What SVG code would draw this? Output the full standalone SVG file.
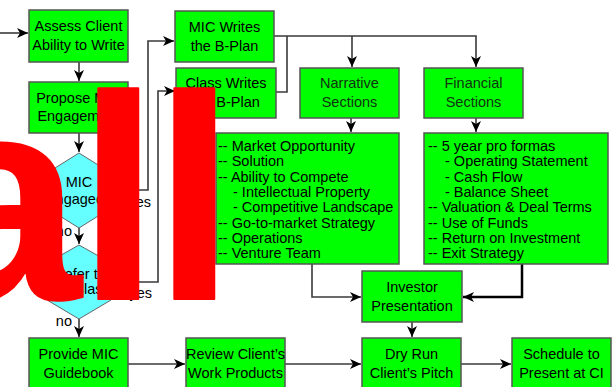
<svg xmlns="http://www.w3.org/2000/svg" width="612" height="387" viewBox="0 0 612 387">
  <style>
    .box { fill: #00ff00; stroke: #555555; stroke-width: 1.5; }
    .hex { fill: #66ffff; stroke: #666666; stroke-width: 1; }
    .t { font-family: "Liberation Sans", Arial, sans-serif; font-size: 14.5px; fill: #000000; text-anchor: middle; }
    .dim { fill: #123312; }
    .lst { font-family: "Liberation Sans", Arial, sans-serif; font-size: 14.5px; fill: #000000; }
    .lbl { font-family: "Liberation Sans", Arial, sans-serif; font-size: 14.5px; fill: #000000; text-anchor: end; }
    .wire { fill: none; stroke: #3a3a3a; stroke-width: 1.6; }
    .heavy { fill: none; stroke: #000000; stroke-width: 2.5; }
    .big { font-family: "Liberation Sans", Arial, sans-serif; font-weight: bold; font-size: 291px; fill: #ff0000; stroke: #ff0000; stroke-width: 2; stroke-linejoin: round; }
  </style>
  <defs>
    <marker id="arr" markerUnits="userSpaceOnUse" markerWidth="11" markerHeight="10" refX="11" refY="5" orient="auto">
      <path d="M0,0 L11,5 L0,10 L3,5 Z" fill="#000000"/>
    </marker>
  </defs>

  <rect width="612" height="387" fill="#ffffff"/>

  <!-- connectors -->
  <g id="connectors">
    <path class="wire" d="M0,33 H28" marker-end="url(#arr)"/>
    <path class="wire" d="M79,62 V81" marker-end="url(#arr)"/>
    <path class="wire" d="M79,133 V152" marker-end="url(#arr)"/>
    <path class="wire" d="M79,228 V244" marker-end="url(#arr)"/>
    <path class="wire" d="M79,319 V337" marker-end="url(#arr)"/>
    <path class="wire" d="M103,190 H148 V41 H174" marker-end="url(#arr)"/>
    <path class="wire" d="M111,282 H158 V91 H175" marker-end="url(#arr)"/>
    <path class="wire" d="M274,36 H476 V67" marker-end="url(#arr)"/>
    <path class="wire" d="M352,36 V67" marker-end="url(#arr)"/>
    <path class="wire" d="M276,92 H287 V36"/>
    <path class="wire" d="M351,118 V132" marker-end="url(#arr)"/>
    <path class="wire" d="M476,118 V132" marker-end="url(#arr)"/>
    <path class="wire" d="M312,264 V297 H361" marker-end="url(#arr)"/>
    <path class="heavy" d="M522,264 V297 H463" marker-end="url(#arr)"/>
    <path class="wire" d="M412,322 V337" marker-end="url(#arr)"/>
    <path class="wire" d="M128,364 H185" marker-end="url(#arr)"/>
    <path class="wire" d="M285,364 H361" marker-end="url(#arr)"/>
    <path class="wire" d="M461,364 H511" marker-end="url(#arr)"/>
    <text class="lbl" x="151" y="207">yes</text>
    <text class="lbl" x="152" y="298">yes</text>
    <text class="lbl" x="72" y="236">no</text>
    <text class="lbl" x="72" y="326">no</text>
  </g>

  <g id="assess">
    <rect class="box" x="29" y="10" width="99" height="52"/>
    <text class="t" x="78.5" y="31">Assess Client</text>
    <text class="t" x="78.5" y="50">Ability to Write</text>
  </g>
  <g id="propose">
    <rect class="box" x="29" y="82" width="99" height="51"/>
    <text class="t" x="78.5" y="103">Propose MIC</text>
    <text class="t" x="78.5" y="121">Engagement</text>
  </g>
  <g id="engaged">
    <polygon class="hex" points="79,153 103,168 103,213 79,228 55,213 55,168"/>
    <text class="t" x="79" y="187">MIC</text>
    <text class="t" x="79" y="204">Engaged?</text>
  </g>
  <g id="refer">
    <polygon class="hex" points="79,245 111,263 111,300 79,319 47,300 47,263"/>
    <text class="t" x="80" y="279">Refer to</text>
    <text class="t" x="80" y="294">CA Class</text>
  </g>
  <g id="mic-writes">
    <rect class="box" x="175" y="11" width="99" height="51"/>
    <text class="t" x="224.5" y="31.5">MIC Writes</text>
    <text class="t" x="224.5" y="50.5">the B-Plan</text>
  </g>
  <g id="class-writes">
    <rect class="box" x="176" y="68" width="100" height="50"/>
    <text class="t" x="226" y="88">Class Writes</text>
    <text class="t" x="226" y="107">the B-Plan</text>
  </g>
  <g id="narrative">
    <rect class="box" x="300" y="68" width="99" height="50"/>
    <text class="t dim" x="349.5" y="88">Narrative</text>
    <text class="t dim" x="349.5" y="107">Sections</text>
  </g>
  <g id="financial">
    <rect class="box" x="424" y="68" width="99" height="50"/>
    <text class="t dim" x="473.5" y="88">Financial</text>
    <text class="t dim" x="473.5" y="107">Sections</text>
  </g>
  <g id="narrative-list">
    <rect class="box" x="216" y="133" width="183" height="131"/>
    <text class="lst" x="218" y="151">-- Market Opportunity</text>
    <text class="lst" x="218" y="166.3">-- Solution</text>
    <text class="lst" x="218" y="181.6">-- Ability to Compete</text>
    <text class="lst" x="233" y="196.9">- Intellectual Property</text>
    <text class="lst" x="233" y="212.2">- Competitive Landscape</text>
    <text class="lst" x="218" y="227.5">-- Go-to-market Strategy</text>
    <text class="lst" x="218" y="242.8">-- Operations</text>
    <text class="lst" x="218" y="258.1">-- Venture Team</text>
  </g>
  <g id="financial-list">
    <rect class="box" x="424" y="133" width="184" height="131"/>
    <text class="lst" x="428" y="151">-- 5 year pro formas</text>
    <text class="lst" x="445" y="166.3">- Operating Statement</text>
    <text class="lst" x="445" y="181.6">- Cash Flow</text>
    <text class="lst" x="445" y="196.9">- Balance Sheet</text>
    <text class="lst" x="428" y="212.2">-- Valuation &amp; Deal Terms</text>
    <text class="lst" x="428" y="227.5">-- Use of Funds</text>
    <text class="lst" x="428" y="242.8">-- Return on Investment</text>
    <text class="lst" x="428" y="258.1">-- Exit Strategy</text>
  </g>
  <g id="investor">
    <rect class="box" x="362" y="271" width="100" height="51"/>
    <text class="t" x="412" y="291.5">Investor</text>
    <text class="t" x="412" y="310.5">Presentation</text>
  </g>
  <g id="provide">
    <rect class="box" x="29" y="338" width="99" height="51"/>
    <text class="t" x="78.5" y="359">Provide MIC</text>
    <text class="t" x="78.5" y="378">Guidebook</text>
  </g>
  <g id="review">
    <rect class="box" x="186" y="338" width="99" height="51"/>
    <text class="t" x="235.5" y="359">Review Client’s</text>
    <text class="t" x="235.5" y="378">Work Products</text>
  </g>
  <g id="dry-run">
    <rect class="box" x="362" y="338" width="99" height="51"/>
    <text class="t" x="411.5" y="359">Dry Run</text>
    <text class="t" x="411.5" y="378">Client’s Pitch</text>
  </g>
  <g id="schedule">
    <rect class="box" x="512" y="338" width="99" height="51"/>
    <text class="t" x="561.5" y="359">Schedule to</text>
    <text class="t" x="561.5" y="378">Present at CI</text>
  </g>

  <!-- large red lettering laid over the chart -->
  <g id="overlay">
    <text class="big" x="-81 78 154" y="299">all</text>
  </g>
</svg>
